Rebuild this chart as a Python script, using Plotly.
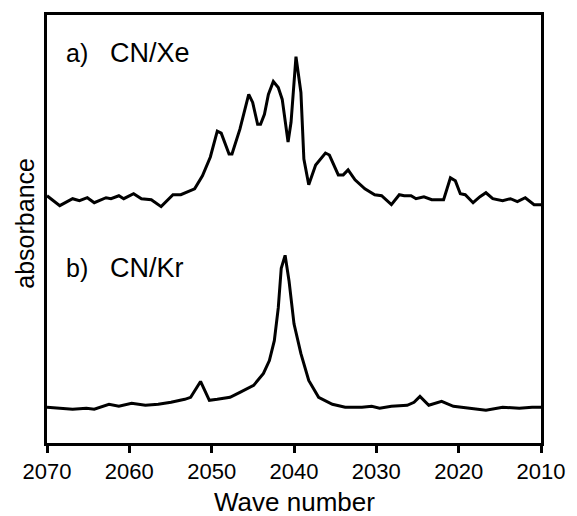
import plotly.graph_objects as go

# Wave numbers (cm^-1) and absorbance (arbitrary units)
wn_xe = [2070.00, 2068.45, 2066.89, 2066.06, 2065.10, 2064.26, 2062.83, 2062.23, 2061.27, 2060.68,
         2059.48, 2058.53, 2057.33, 2056.14, 2054.70, 2053.75, 2052.07, 2051.12, 2050.16, 2049.32,
         2048.84, 2047.89, 2047.53, 2046.57, 2045.50, 2045.02, 2044.42, 2044.06, 2043.59, 2043.11,
         2042.51, 2041.91, 2041.43, 2040.72, 2040.36, 2039.76, 2039.16, 2038.80, 2038.21, 2037.37,
         2036.18, 2035.70, 2034.62, 2034.02, 2033.43, 2032.59, 2031.39, 2030.20, 2029.36, 2028.17,
         2027.21, 2026.61, 2025.78, 2025.18, 2024.22, 2023.27, 2021.83, 2021.00, 2020.40, 2019.80,
         2019.20, 2018.25, 2017.41, 2016.69, 2015.86, 2014.66, 2013.71, 2012.87, 2011.91, 2010.84,
         2010.00]
abs_xe = [2.49, 2.39, 2.46, 2.44, 2.47, 2.42, 2.47, 2.46, 2.49, 2.46,
          2.51, 2.46, 2.45, 2.38, 2.50, 2.50, 2.56, 2.69, 2.88, 3.14,
          3.12, 2.91, 2.91, 3.16, 3.51, 3.43, 3.21, 3.21, 3.31, 3.51,
          3.64, 3.58, 3.46, 3.03, 3.23, 3.89, 3.53, 2.86, 2.60, 2.80,
          2.92, 2.90, 2.70, 2.70, 2.75, 2.65, 2.56, 2.50, 2.49, 2.40,
          2.50, 2.49, 2.49, 2.46, 2.48, 2.45, 2.45, 2.67, 2.64, 2.51,
          2.50, 2.42, 2.48, 2.52, 2.46, 2.44, 2.46, 2.43, 2.47, 2.40,
          2.40]

wn_kr = [2070.00, 2068.45, 2066.89, 2065.22, 2064.26, 2062.47, 2061.27, 2059.72, 2058.05, 2056.49,
         2054.94, 2053.27, 2052.55, 2051.35, 2050.28, 2049.32, 2047.77, 2046.57, 2044.90, 2043.71,
         2042.99, 2042.39, 2041.91, 2041.55, 2041.08, 2040.60, 2040.00, 2039.16, 2038.21, 2037.01,
         2035.34, 2033.78, 2031.75, 2030.56, 2029.60, 2028.17, 2026.25, 2025.42, 2024.70, 2023.63,
         2022.07, 2020.64, 2018.61, 2016.69, 2014.66, 2012.63, 2011.08, 2010.00]
abs_kr = [0.36, 0.35, 0.34, 0.35, 0.34, 0.39, 0.37, 0.40, 0.38, 0.39,
          0.41, 0.44, 0.46, 0.62, 0.43, 0.44, 0.46, 0.51, 0.58, 0.70,
          0.83, 1.03, 1.36, 1.76, 1.89, 1.63, 1.20, 0.90, 0.63, 0.46,
          0.39, 0.36, 0.36, 0.37, 0.35, 0.37, 0.38, 0.41, 0.47, 0.38,
          0.42, 0.37, 0.35, 0.33, 0.36, 0.35, 0.36, 0.36]

x_ticks = [2070, 2060, 2050, 2040, 2030, 2020, 2010]
panel_tags = ["a)", "b)"]
panel_names = ["CN/Xe", "CN/Kr"]

FONT = "Liberation Sans, Arial, sans-serif"

fig = go.Figure()
fig.add_trace(go.Scatter(x=wn_xe, y=abs_xe, mode="lines",
                         line=dict(color="black", width=3), showlegend=False))
fig.add_trace(go.Scatter(x=wn_kr, y=abs_kr, mode="lines",
                         line=dict(color="black", width=3), showlegend=False))

label_y = [0.912, 0.408]
for tag, name, yy in zip(panel_tags, panel_names, label_y):
    fig.add_annotation(text=tag, xref="paper", yref="paper", x=0.034, y=yy,
                       xanchor="left", yanchor="middle", showarrow=False,
                       font=dict(family=FONT, size=25, color="black"))
    fig.add_annotation(text=name, xref="paper", yref="paper", x=0.124, y=yy,
                       xanchor="left", yanchor="middle", showarrow=False,
                       font=dict(family=FONT, size=27, color="black"))

fig.add_annotation(text="absorbance", xref="paper", yref="paper", x=-0.044, y=0.513,
                   xanchor="center", yanchor="middle", textangle=-90, showarrow=False,
                   font=dict(family=FONT, size=25, color="black"))
fig.add_annotation(text="Wave number", xref="paper", yref="paper", x=0.5, y=-0.139,
                   xanchor="center", yanchor="middle", showarrow=False,
                   font=dict(family=FONT, size=26, color="black"))

fig.update_layout(
    width=577, height=516,
    margin=dict(l=47, r=28, t=12, b=73),
    paper_bgcolor="white", plot_bgcolor="white",
    xaxis=dict(range=[2070, 2010], tickvals=x_ticks, ticktext=[str(v) for v in x_ticks],
               showline=True, linecolor="black", linewidth=2.5, mirror=True,
               ticks="outside", ticklen=7, tickwidth=2.5, tickcolor="black",
               showgrid=False, zeroline=False,
               tickfont=dict(family=FONT, size=22, color="black")),
    yaxis=dict(range=[0, 4.31], showline=True, linecolor="black", linewidth=2.5, mirror=True,
               showticklabels=False, ticks="", showgrid=False, zeroline=False),
)

fig.write_html("out.html")
